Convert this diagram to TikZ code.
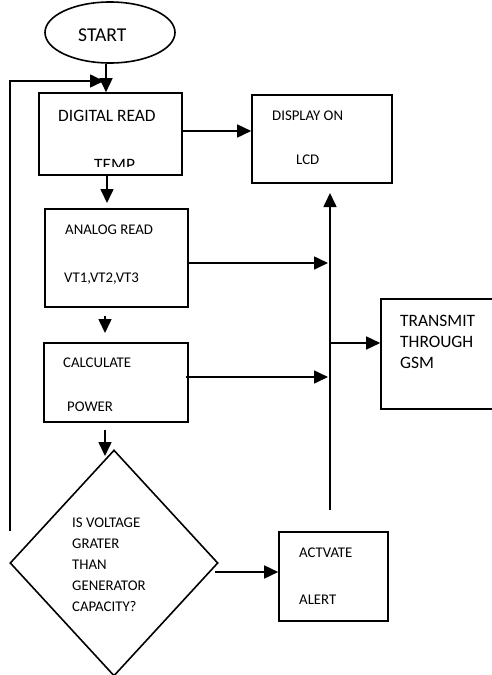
\documentclass[tikz,border=0pt]{standalone}
\usepackage{fontspec}
\setmainfont{Carlito}
\usetikzlibrary{shapes.geometric,arrows.meta}
\begin{document}
\begin{tikzpicture}[x=1pt,y=-1pt,
  box/.style={draw,line width=1.6pt,rectangle,inner sep=0pt},
  conn/.style={line width=1.6pt,-{Triangle[length=14pt,width=13pt]}},
  lbl/.style={anchor=base west,inner sep=0pt,font=\fontsize{14.8}{16}\selectfont},
  lblbig/.style={anchor=base west,inner sep=0pt,font=\fontsize{17.4}{19}\selectfont}]
\useasboundingbox (0,0) rectangle (492,675);
\clip (0,0) rectangle (492,675);
% shapes
\node[draw,line width=1.6pt,ellipse,minimum width=130pt,minimum height=61pt,inner sep=0pt] (start) at (110,32.5) {};
\node[box,minimum width=143pt,minimum height=82pt] (dig) at (110.5,134) {};
\node[box,minimum width=140pt,minimum height=88pt] (disp) at (322,139) {};
\node[box,minimum width=143pt,minimum height=98pt] (ana) at (116.5,258) {};
\node[box,minimum width=144pt,minimum height=79pt] (calc) at (116,382.5) {};
\node[box,minimum width=122pt,minimum height=110pt] (trans) at (442,354) {};
\node[box,minimum width=109pt,minimum height=89pt] (act) at (333.5,576.5) {};
\node[draw,line width=1.6pt,diamond,minimum width=208pt,minimum height=226pt,inner sep=0pt] (dec) at (114,563) {};
% texts
\node[anchor=base west,inner sep=0pt,font=\fontsize{19.6}{21}\selectfont] (tstart) at (78,41) {START};
\node[lblbig] (tdig) at (58,121) {DIGITAL READ};
\begin{scope}
\clip (40,150) rectangle (180,166);
\node[lblbig] (ttemp) at (94,170) {TEMP};
\end{scope}
\node[lbl] (tdisp) at (272,120) {DISPLAY ON};
\node[lbl] (tlcd) at (296,164) {LCD};
\node[lbl] (tana) at (65,234) {ANALOG READ};
\node[lbl] (tvt) at (64,282) {VT1,VT2,VT3};
\node[lbl] (tcalc) at (63,367) {CALCULATE};
\node[lbl] (tpow) at (67,411) {POWER};
\node[lblbig] (ttr1) at (400,326) {TRANSMIT};
\node[lblbig] (ttr2) at (400,347) {THROUGH};
\node[lblbig] (ttr3) at (400,368) {GSM};
\node[lbl] (td1) at (72,527) {IS VOLTAGE};
\node[lbl] (td2) at (72,548) {GRATER};
\node[lbl] (td3) at (72,569) {THAN};
\node[lbl] (td4) at (72,590) {GENERATOR};
\node[lbl] (td5) at (72,611) {CAPACITY?};
\node[lbl] (tact) at (299,557) {ACTVATE};
\node[lbl] (talert) at (299,604) {ALERT};
% coordinates for free ends
\coordinate (fbB) at (10,531);
\coordinate (fbT) at (10,81);
\coordinate (fbE) at (104,81);
\coordinate (busB) at (330,510);
\coordinate (busT) at (330,193);
\coordinate (busA) at (328,263);
\coordinate (busC) at (328,377);
\coordinate (busG) at (330,343);
\coordinate (a2s) at (105,316);
\coordinate (a2e) at (105,333);
\coordinate (a3s) at (105,430);
\coordinate (a3e) at (105,456);
\coordinate (decR) at (215,572);
% connectors
\draw[conn] (start.south -| 106,0) -- (dig.north -| 106,0);
\draw[conn] (fbB) -- (fbT) -- (fbE);
\draw[conn] (dig.east |- 0,131) -- (disp.west |- 0,131);
\draw[conn] (dig.south -| 107,0) -- (107,203);
\draw[conn] (a2s) -- (a2e);
\draw[conn] (a3s) -- (a3e);
\draw[conn] (busB) -- (busT);
\draw[conn] (ana.east |- busA) -- (busA);
\draw[conn] (186,377) -- (busC);
\draw[conn] (busG) -- (trans.west |- busG);
\draw[conn] (decR) -- (act.west |- decR);
\end{tikzpicture}
\end{document}
